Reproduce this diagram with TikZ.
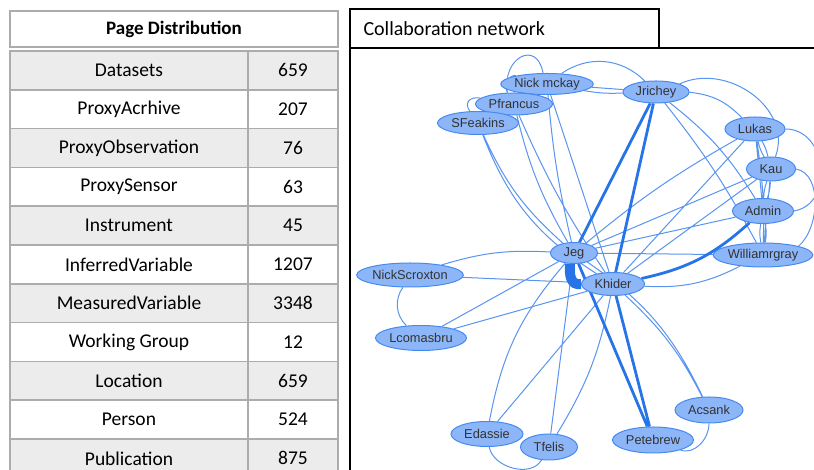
\documentclass[tikz,border=0pt]{standalone}
\usepackage{fontspec}
\setmainfont{Carlito}
\newfontfamily\netfont{Liberation Sans}
\usetikzlibrary{shapes.geometric,backgrounds}
\definecolor{rowgray}{RGB}{236,236,236}
\definecolor{gridgray}{RGB}{172,172,172}
\definecolor{nodefill}{RGB}{141,182,248}
\definecolor{nodeedge}{RGB}{70,138,240}
\definecolor{linkblue}{RGB}{88,148,240}
\definecolor{strongblue}{RGB}{38,116,232}
\definecolor{nametext}{RGB}{50,50,50}
\tikzset{
	cell/.style={font=\fontsize{19.5}{22}\selectfont},
	person/.style 2 args={ellipse,draw=nodeedge,fill=nodefill,line width=1pt,inner sep=0pt,
		minimum width=#1,minimum height=#2,text=nametext,font=\netfont\fontsize{12.8}{14}\selectfont},
	link/.style={draw=linkblue,line width=1pt},
	strong/.style={draw=strongblue,line width=2.8pt},
	heavy/.style={draw=strongblue,line width=10pt},
}
\begin{document}
\begin{tikzpicture}[x=1pt,y=1pt]
	\useasboundingbox (0,0) rectangle (814,470) ;
	\clip (0,0) rectangle (814,470) ;
	\draw[gridgray,line width=1.5pt] (10,459) rectangle (338,423) ;
	\node[cell,font=\bfseries\fontsize{19}{22}\selectfont] (head) at (174,441) {Page Distribution} ;
	\foreach \lab/\val [count=\i] in {Datasets/659,ProxyAcrhive/207,ProxyObservation/76,
		ProxySensor/63,Instrument/45,InferredVariable/1207,MeasuredVariable/3348,
		Working Group/12,Location/659,Person/524,Publication/875} {
		\ifodd\i \def\rowcol{rowgray}\else \def\rowcol{white}\fi
		\pgfmathsetmacro\rowtop{419-(\i-1)*38.8}
		\filldraw[fill=\rowcol,draw=gridgray,line width=1.5pt] (10,\rowtop) rectangle (248,\rowtop-38.8)
			(248,\rowtop) rectangle (338,\rowtop-38.8) ;
		\node[cell] (name\i) at (129,\rowtop-19.4) {\lab} ;
		\node[cell] (count\i) at (293,\rowtop-19.4) {\val} ;
	}
	\draw[line width=1.2pt] (350,461) rectangle (659,422) ;
	\node[anchor=west,font=\fontsize{20}{24}\selectfont] (title) at (360,441.5) {Collaboration network} ;
	\draw[line width=1.2pt] (659,422) -- (814,422) (350,422) -- (350,0) ;
	\node[person={90pt}{21pt}] (nickmckay) at (547,386) {Nick mckay} ;
	\node[person={77pt}{22pt}] (pfrancus) at (514,366) {Pfrancus} ;
	\node[person={81pt}{23pt}] (sfeakins) at (478,347) {SFeakins} ;
	\node[person={66pt}{22pt}] (jrichey) at (656,378) {Jrichey} ;
	\node[person={60pt}{24pt}] (lukas) at (755,341) {Lukas} ;
	\node[person={49pt}{24pt}] (kau) at (771,301) {Kau} ;
	\node[person={61pt}{25pt}] (admin) at (763,259) {Admin} ;
	\node[person={97pt}{24pt}] (williamrgray) at (763,215) {Williamrgray} ;
	\node[person={47pt}{21pt}] (jeg) at (574,217) {Jeg} ;
	\node[person={63pt}{23pt}] (khider) at (613,186) {Khider} ;
	\node[person={100pt}{24pt}] (nickscroxton) at (410,195) {NickScroxton} ;
	\node[person={91pt}{25pt}] (lcomasbru) at (421,132) {Lcomasbru} ;
	\node[person={72pt}{25pt}] (edassie) at (487,36) {Edassie} ;
	\node[person={57pt}{26pt}] (tfelis) at (549,23) {Tfelis} ;
	\node[person={81pt}{26pt}] (petebrew) at (653,30) {Petebrew} ;
	\node[person={68pt}{26pt}] (acsank) at (709,60) {Acsank} ;
	\begin{scope}[on background layer]
		\draw[link] (sfeakins) to[bend right=12] (jeg) (sfeakins) to[bend right=18] (khider)
			(pfrancus) to[bend right=8] (jeg) (pfrancus) to[bend right=5] (khider)
			(nickmckay) to[bend right=4] (jeg) (nickmckay) -- (khider) ;
		\draw[link] (nickmckay) to[out=165,in=120] (pfrancus)
			(nickmckay.110) to[out=100,in=100,looseness=2.2] (pfrancus.120)
			(pfrancus) to[out=170,in=125,looseness=1.6] (sfeakins)
			(nickmckay) to[bend left=40] (jrichey)
			(nickmckay) -- (jrichey) (nickmckay) to[bend right=6] (jrichey) ;
		\draw[link] (jrichey) to[bend left=20] (lukas)
			(jrichey.north east) to[out=25,in=70,looseness=1.1] (kau)
			(jrichey) to[bend left=10] (admin) (jrichey) to[bend left=5] (williamrgray) ;
		\draw[link] (lukas) to[bend right=5] (jeg) (lukas) -- (khider)
			(kau) -- (jeg) (kau) -- (khider) (admin) -- (jeg)
			(williamrgray) -- (jeg) (williamrgray) to[bend left=15] (khider) ;
		\draw[link] (lukas) to[bend left=8] (kau) (lukas) to[bend right=8] (kau)
			(lukas) -- (admin) (lukas) to[bend left=5] (williamrgray)
			(kau) to[bend left=8] (admin) (kau) to[bend right=8] (admin) (kau) -- (williamrgray)
			(admin) to[bend left=10] (williamrgray) (admin) to[bend right=10] (williamrgray)
			(kau.east) to[out=-10,in=40,looseness=0.9] (williamrgray.north east)
			(lukas.east) to[out=0,in=10,looseness=1.3] (admin.east) ;
		\draw[link] (jeg) to[bend right=10] (nickscroxton) (lcomasbru) -- (jeg)
			(nickscroxton) -- (khider) (lcomasbru) -- (khider)
			(nickscroxton) to[bend right=40] (lcomasbru) ;
		\draw[link] (edassie) to[bend left=15] (jeg) (edassie) -- (khider)
			(tfelis) -- (jeg) (tfelis) to[bend right=10] (khider)
			(edassie) to[out=-80,in=-120] (tfelis)
			(petebrew) to[out=-20,in=-90] (acsank)
			(khider) to[bend left=10] (acsank) (jeg) to[bend left=15] (acsank) ;
		\draw[strong] (jeg) -- (jrichey) (khider) -- (jrichey)
			(jeg) -- (petebrew) (khider) -- (petebrew)
			(khider) to[bend right=15] (admin) ;
		\draw[heavy] (jeg.-110) to[out=-95,in=190,looseness=1.2] (khider.west) ;
	\end{scope}
\end{tikzpicture}
\end{document}
